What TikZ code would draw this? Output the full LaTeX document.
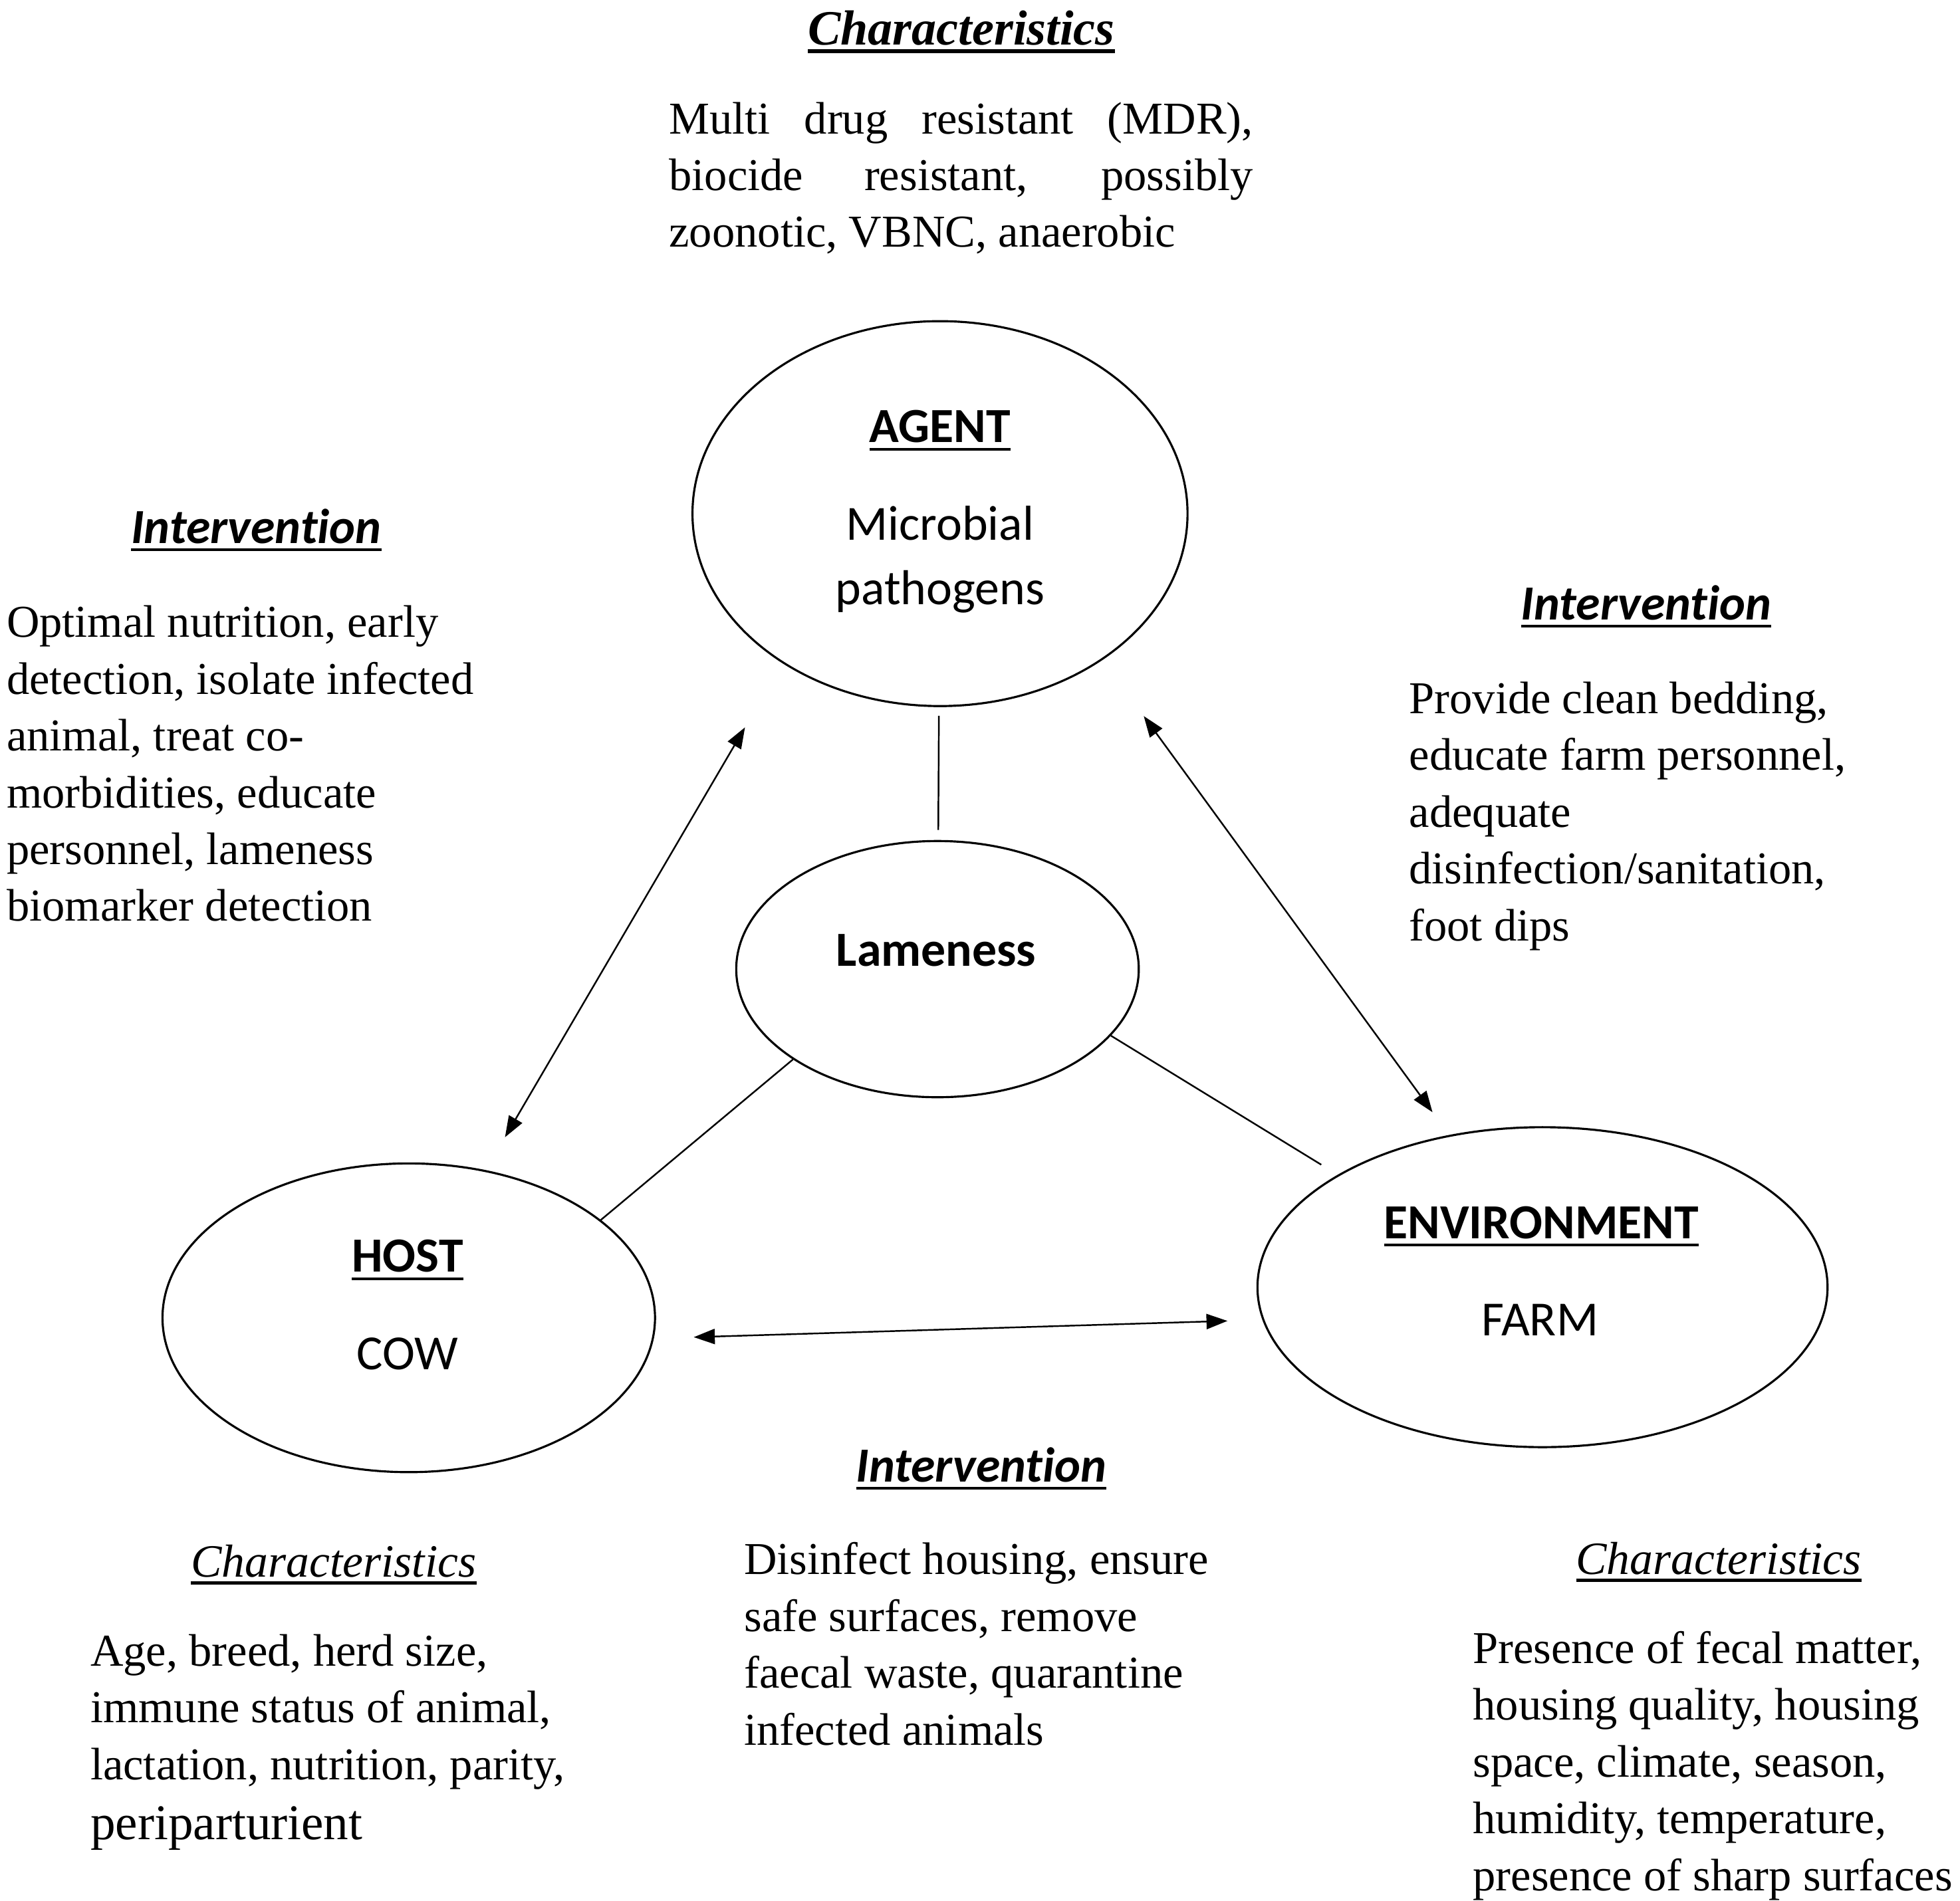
\documentclass[tikz,border=0pt]{standalone}
\usepackage{fontspec}
\setmainfont{Liberation Serif}
\newfontfamily\calfont[Ligatures={NoCommon,NoContextual}]{Carlito}
\usetikzlibrary{arrows.meta,shapes.geometric,calc}
\newcommand\ulbox[3]{\setbox0\hbox{#3}\leavevmode\rlap{\rule[-#1]{\wd0}{#2}}\box0}
\newcommand\lineof[1]{\hbox{#1}}
\begin{document}
\begin{tikzpicture}[x=0.0188cm, y=-0.0188cm,
  ell/.style={draw, ellipse, line width=0.9pt, inner sep=0pt},
  body/.style={anchor=base west, inner sep=0pt, font=\fontsize{19.5}{24.3}\selectfont},
  head/.style={anchor=base, inner sep=0pt, font=\calfont\bfseries\itshape\fontsize{21}{25}\selectfont},
  chead/.style={anchor=base, inner sep=0pt, font=\itshape\fontsize{19.8}{24}\selectfont},
  lab/.style={anchor=base, inner sep=0pt, font=\calfont\fontsize{21}{25}\selectfont},
  blab/.style={anchor=base, inner sep=0pt, font=\calfont\bfseries\fontsize{21}{25}\selectfont},
  link/.style={line width=0.7pt},
  dbl/.style={line width=0.7pt, {Triangle[length=9pt,width=6.5pt]}-{Triangle[length=9pt,width=6.5pt]}}]
\useasboundingbox (0,0) rectangle (1568,1521);

% ellipses
\node[ell, minimum width=7.445cm, minimum height=5.79cm] (agent) at (752,411) {};
\node[ell, minimum width=6.054cm, minimum height=3.854cm] (lame) at (750,775.5) {};
\node[ell, minimum width=7.407cm, minimum height=4.644cm] (host) at (327,1054.5) {};
\node[ell, minimum width=8.573cm, minimum height=4.813cm] (env) at (1234,1030) {};

% ellipse labels
\node[blab] (agentT) at (752,354) {\ulbox{3.6pt}{1.1pt}{AGENT}};
\node[lab] (micro) at (752,432) {Microbial};
\node[lab] (patho) at (752,484) {pathogens};
\node[blab] (lameT) at (749,773) {Lameness};
\node[blab] (hostT) at (326,1018) {\ulbox{3.4pt}{1.1pt}{HOST}};
\node[lab] (cow) at (326,1096) {COW};
\node[blab] (envT) at (1233,991) {\ulbox{3.4pt}{1.1pt}{ENVIRONMENT}};
\node[lab] (farm) at (1232,1069) {FARM};

% plain links
\draw[link, shorten <=0.13cm, shorten >=0.15cm] (agent) -- (lame);
\draw[link] (lame.212) -- (host.27);
\coordinate (envend) at (1057,932);
\draw[link] (lame.339) -- (envend);

% double arrows
\coordinate (ah1) at (596,582);
\coordinate (ah2) at (404,910);
\coordinate (ae1) at (915,573);
\coordinate (ae2) at (1146,890);
\coordinate (he1) at (555,1070);
\coordinate (he2) at (982,1057);
\draw[dbl] (ah1) -- (ah2);
\draw[dbl] (ae1) -- (ae2);
\draw[dbl] (he1) -- (he2);

% headings
\node[anchor=base, inner sep=0pt, font=\bfseries\itshape\fontsize{21.1}{26}\selectfont] (charTop) at (769,36) {\ulbox{3.4pt}{1.7pt}{Characteristics}};
\node[head] (intL) at (205,435) {\ulbox{3.2pt}{1.2pt}{Intervention}};
\node[head] (intR) at (1317,496) {\ulbox{3.2pt}{1.2pt}{Intervention}};
\node[head] (intB) at (785,1186) {\ulbox{3.2pt}{1.2pt}{Intervention}};
\node[chead] (charL) at (267,1262) {\ulbox{3.2pt}{1.5pt}{Characteristics}};
\node[chead] (charR) at (1375,1260) {\ulbox{3.2pt}{1.5pt}{Characteristics}};

% body texts
\node[body] (txtTop) at (535,107) {\vtop{%
  \lineof{\makebox[8.78cm][s]{Multi drug resistant (MDR),}}
  \lineof{\makebox[8.78cm][s]{biocide resistant, possibly}}
  \lineof{zoonotic, VBNC, anaerobic}}};
\node[body] (txtL) at (5,510) {\vtop{%
  \lineof{Optimal nutrition, early}
  \lineof{detection, isolate infected}
  \lineof{animal, treat co-}
  \lineof{morbidities, educate}
  \lineof{personnel, lameness}
  \lineof{biomarker detection}}};
\node[body] (txtR) at (1127,571) {\vtop{%
  \lineof{Provide clean bedding,}
  \lineof{educate farm personnel,}
  \lineof{adequate}
  \lineof{disinfection/sanitation,}
  \lineof{foot dips}}};
\node[body] (txtB) at (595,1260) {\vtop{%
  \lineof{Disinfect housing, ensure}
  \lineof{safe surfaces, remove}
  \lineof{faecal waste, quarantine}
  \lineof{infected animals}}};
\node[body] (txtBL) at (72,1333) {\vtop{%
  \lineof{Age, breed, herd size,}
  \lineof{immune status of animal,}
  \lineof{lactation, nutrition, parity,}
  \vskip 1.5pt
  \lineof{\fontsize{21.4}{24.3}\selectfont periparturient}}};
\node[body] (txtBR) at (1178,1331) {\vtop{%
  \lineof{Presence of fecal matter,}
  \lineof{housing quality, housing}
  \lineof{space, climate, season,}
  \lineof{humidity, temperature,}
  \lineof{presence of sharp surfaces}}};
\end{tikzpicture}
\end{document}
